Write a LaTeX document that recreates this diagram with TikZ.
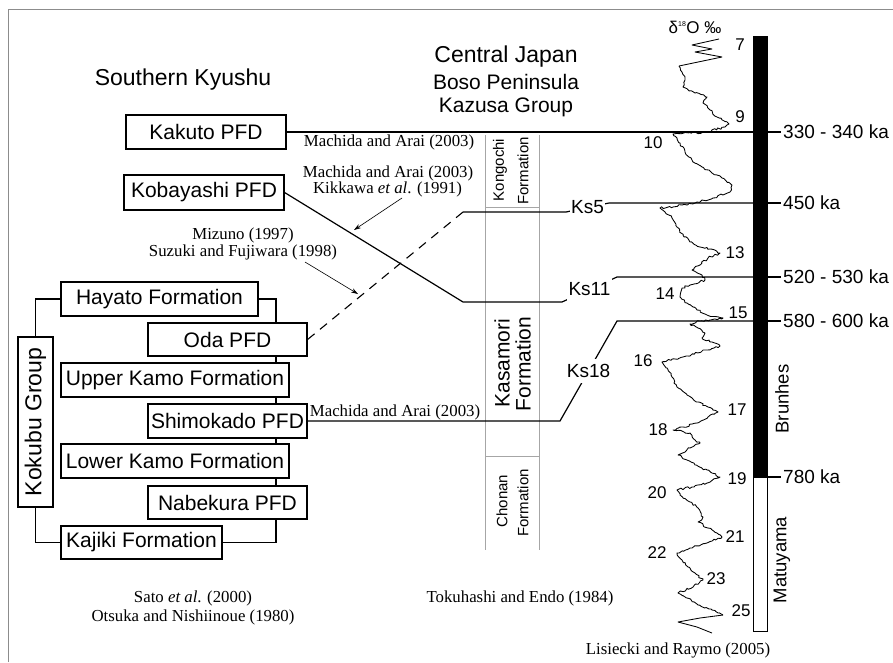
\documentclass[tikz,border=0pt]{standalone}
\usepackage{fontspec}
\setmainfont{Liberation Sans}
\newfontfamily\citefont{Liberation Serif}
\usetikzlibrary{arrows.meta,decorations.pathmorphing}
\begin{document}
\begin{tikzpicture}[x=1pt,y=-1pt,
  box/.style={draw, fill=white, line width=1.2pt, minimum height=34pt, inner sep=0pt, font=\fontsize{21}{21}\selectfont},
  cite/.style={inner sep=0pt, font=\citefont\fontsize{16.8}{16.8}\selectfont},
  title/.style={inner sep=0pt, font=\fontsize{23}{23}\selectfont},
  subtitle/.style={inner sep=0pt, font=\fontsize{21}{21}\selectfont},
  conn/.style={line width=1.2pt},
  ks/.style={fill=white, inner xsep=1.5pt, inner ysep=5pt, font=\fontsize{19}{19}\selectfont},
  age/.style={anchor=west, inner sep=0pt, font=\fontsize{19}{19}\selectfont},
  stage/.style={inner sep=0pt, font=\fontsize{17}{17}\selectfont},
  colline/.style={draw=black!35, line width=0.8pt},
  colsmall/.style={rotate=90, inner sep=0pt, font=\fontsize{15}{15}\selectfont},
  colbig/.style={rotate=90, inner sep=0pt, font=\fontsize{21}{21}\selectfont},
  ptr/.style={line width=0.6pt, -{Stealth[length=7pt,width=4.5pt]}},
  curveplain/.style={line width=0.85pt, line join=round},
  curve/.style={curveplain, decorate, decoration={random steps, segment length=2.2pt, amplitude=1.1pt}},
]
\pgfmathsetseed{7}
\useasboundingbox (0,0) rectangle (893,662);
% frame
\draw[black!45, line width=0.8pt] (8.3,662) -- (8.3,9.3) -- (893,9.3);

% titles
\node[title] (sk) at (183,80) {Southern Kyushu};
\node[title] (cj) at (506,57) {Central Japan};
\node[subtitle] (bp) at (506,82) {Boso Peninsula};
\node[subtitle] (kg) at (506,107) {Kazusa Group};

% Kazusa columns
\coordinate (c1t) at (485,135); \coordinate (c1b) at (485,550);
\coordinate (c2t) at (539,135); \coordinate (c2b) at (539,550);
\draw[colline] (c1t) -- (c1b);
\draw[colline] (c2t) -- (c2b);
\draw[colline] (485,207) -- (539,207);
\draw[colline] (485,456) -- (539,456);
\node[colsmall] (kon1) at (500,170) {Kongochi};
\node[colsmall] (kon2) at (523,171) {Formation};
\node[colbig] (kas1) at (502,363) {Kasamori};
\node[colbig] (kas2) at (523,364) {Formation};
\node[colsmall] (cho1) at (502,501) {Chonan};
\node[colsmall] (cho2) at (523,503) {Formation};

% polarity bar
\node[fill=black, minimum width=15pt, minimum height=441pt, inner sep=0pt] (bar) at (760.5,256.5) {};
\node[draw, line width=1pt, fill=white, minimum width=14pt, minimum height=154pt, inner sep=0pt] (mbar) at (760.5,554.5) {};
\node[rotate=90, inner sep=0pt, font=\fontsize{18.5}{18.5}\selectfont] (brun) at (782,399) {Brunhes};
\node[rotate=90, inner sep=0pt, font=\fontsize{18.5}{18.5}\selectfont] (matu) at (782,560) {Matuyama};

% age labels and ticks
\foreach \yy/\tt/\nm in {132/330 - 340 ka/a1, 203/450 ka/a2, 277/520 - 530 ka/a3, 321/580 - 600 ka/a4, 477/780 ka/a5}{
  \node[age] (\nm) at (783,\yy) {\tt};
  \draw[conn] (bar.east |- \nm.west) -- ([xshift=-2pt]\nm.west);
}

% d18O curve
\node[inner sep=0pt, font=\fontsize{17}{17}\selectfont] (dlab) at (695,27) {δ\textsuperscript{\fontsize{7}{7}\selectfont 18}O ‰};
\draw[curveplain] (719,39) -- (692,45) -- (712,49) -- (695,52) -- (722,57) -- (679,66);
\draw[curve] (679,66) -- (682,72) -- (685,80) -- (683,87) -- (695,93) -- (707,97) -- (703,103) -- (710,110) -- (717,117) -- (729,124) -- (725,127) -- (707,132) -- (673,134) -- (677,138) -- (680,143) -- (685,152) -- (692,160) -- (702,167) -- (712,173) -- (722,178) -- (732,185) -- (730,192) -- (713,198) -- (697,202) -- (673,207) -- (660,208) -- (665,212) -- (672,218) -- (677,227) -- (683,235) -- (690,242) -- (700,247) -- (710,249) -- (720,253) -- (708,258) -- (702,263) -- (692,270) -- (702,275) -- (705,280) -- (690,285) -- (682,288) -- (680,297) -- (687,303) -- (697,310) -- (707,315) -- (723,318) -- (700,321) -- (690,324) -- (698,328) -- (705,333) -- (702,338) -- (712,342) -- (720,346) -- (707,350) -- (683,357) -- (662,362) -- (667,368) -- (672,377) -- (677,387) -- (687,395) -- (698,402) -- (708,407) -- (718,412) -- (708,417) -- (697,423) -- (683,427) -- (673,430) -- (690,433) -- (695,440) -- (700,443) -- (690,448) -- (678,455) -- (687,460) -- (695,465) -- (707,470) -- (720,477) -- (707,483) -- (692,487) -- (677,490) -- (680,495) -- (690,502) -- (698,508) -- (703,517) -- (698,522) -- (708,528) -- (717,533) -- (722,537) -- (707,543) -- (690,548) -- (677,553) -- (682,560) -- (688,567) -- (695,573) -- (703,580) -- (693,587) -- (678,593) -- (687,598) -- (698,605) -- (712,610) -- (723,615);
\draw[curveplain] (723,615) -- (700,618) -- (678,622) -- (697,627) -- (712,633);
\foreach \xx/\yy/\tt in {740/45/7, 740/117/9, 653/143/10, 735/253/13, 665/294/14, 738/313/15, 643/361/16, 737/410/17, 658/430/18, 737/479/19, 657/493/20, 735/537/21, 657/553/22, 716/579/23, 741/611/25}{
  \node[stage] at (\xx,\yy) {\tt};
}

% Kokubu group frame lines (behind boxes)
\coordinate (rtop) at (276,299);
\coordinate (rbot) at (276,542.5);
\draw[conn] (159,299) -- (rtop) -- (rbot) -- (141,542.5);

% Southern Kyushu boxes
\node[box, minimum width=160pt, minimum height=34pt] (kakuto) at (206,132) {Kakuto PFD};
\node[box, minimum width=160pt, minimum height=35pt] (kobayashi) at (204,192.5) {Kobayashi PFD};
\node[box, minimum width=197pt] (hayato) at (159.5,299) {Hayato Formation};
\node[box, minimum width=159pt, minimum height=33pt] (oda) at (227.5,339.5) {Oda PFD};
\node[box, minimum width=228pt] (ukamo) at (175,380) {Upper Kamo Formation};
\node[box, minimum width=159pt] (shimokado) at (227.5,421) {Shimokado PFD};
\node[box, minimum width=228pt] (lkamo) at (175,461) {Lower Kamo Formation};
\node[box, minimum width=159pt, minimum height=33pt] (nabekura) at (227.5,502.5) {Nabekura PFD};
\node[box, minimum width=161pt, minimum height=33pt] (kajiki) at (141.5,542.5) {Kajiki Formation};
\node[box, rotate=90, minimum width=170pt, minimum height=35pt, font=\fontsize{23}{23}\selectfont] (kokubu) at (35.5,422) {Kokubu Group};
\draw[conn] (hayato.west) -| (kokubu.east);
\draw[conn] (kajiki.west) -| (kokubu.west);

% correlation lines
\draw[conn] (kakuto.east) -- (bar.west |- kakuto.east);
\node[cite] (c1) at (389,142) {Machida and Arai (2003)};

\coordinate (dtop) at (463,212);
\draw[line width=1.1pt, dash pattern=on 9pt off 7pt] (oda.east) -- (dtop);
\draw[conn] (dtop) -- (566,212) -- node[ks] (ks5) {Ks5} (609,203) -- (bar.west |- a2.west);

\coordinate (kbend) at (463,302);
\draw[conn] (kobayashi.east) -- (kbend) -- (562,302) -- node[ks] (ks11) {Ks11} (617,277) -- (bar.west |- a3.west);

\coordinate (sbend) at (560,421);
\draw[conn] (shimokado.east) -- (sbend) -- node[ks] (ks18) {Ks18} (617,321) -- (bar.west |- a4.west);
\node[cite] (c4) at (395,412) {Machida and Arai (2003)};

% citations with pointers
\node[cite] (c2) at (388,173) {Machida and Arai (2003)};
\node[cite] (c3) at (387.5,189) {Kikkawa \textit{et al}. (1991)};
\coordinate (p1s) at (402,198); \coordinate (p1e) at (354,230);
\draw[ptr] (p1s) -- (p1e);
\node[cite] (c5) at (243,235) {Mizuno (1997)};
\node[cite] (c6) at (243,252) {Suzuki and Fujiwara (1998)};
\coordinate (p2s) at (305,262); \coordinate (p2e) at (358,294);
\draw[ptr] (p2s) -- (p2e);

% bottom citations
\node[cite] (c7) at (193,598) {Sato \textit{et al}. (2000)};
\node[cite] (c8) at (193,617) {Otsuka and Nishiinoue (1980)};
\node[cite] (c9) at (520,598) {Tokuhashi and Endo (1984)};
\node[cite] (c10) at (678,650) {Lisiecki and Raymo (2005)};
\end{tikzpicture}
\end{document}
